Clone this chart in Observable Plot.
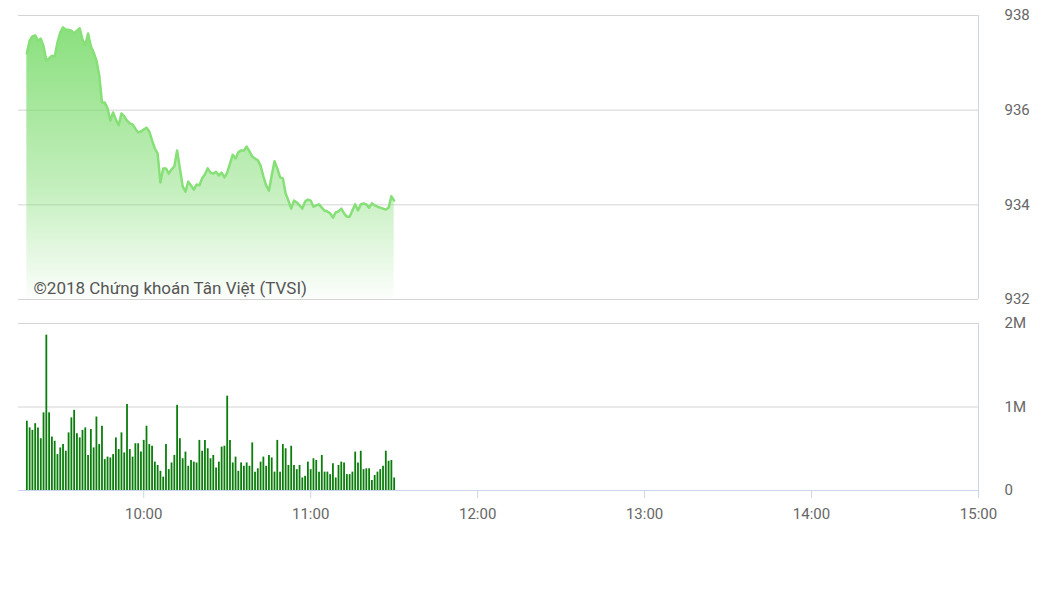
<!DOCTYPE html>
<html><head><meta charset="utf-8">
<script src="https://cdn.jsdelivr.net/npm/d3@7"></script>
<script src="https://cdn.jsdelivr.net/npm/@observablehq/plot@0.6"></script>
<style>
body{margin:0;background:#fff;}
#wrap{position:relative;width:1051px;height:590px;font-family:Roboto,sans-serif;}
#topPanel,#botPanel{position:absolute;left:0;}
#topPanel{top:0}
#botPanel{top:310px}
</style></head><body><div id="wrap"><div id="topPanel"></div><div id="botPanel"></div></div>
<script>
const startTime = "09:18";
const sessionStart = "09:15";
const sessionEnd = "15:00";
const tickLabels = ["10:00","11:00","12:00","13:00","14:00","15:00"];
const priceTicks = [932, 934, 936, 938];
const volumeTicks = [0, 1, 2];
const credit = "©2018 Chứng khoán Tân Việt (TVSI)";

const price = [
937.20,937.47,937.56,937.58,937.47,937.51,937.35,937.05,937.09,937.15,
937.13,937.43,937.64,937.75,937.70,937.70,937.68,937.62,937.68,937.73,
937.49,937.37,937.62,937.35,937.22,937.05,936.75,936.16,936.16,936.04,
935.78,935.95,935.80,935.68,935.93,935.87,935.78,935.72,935.70,935.61,
935.53,935.55,935.59,935.63,935.55,935.36,935.19,935.08,934.47,934.77,
934.77,934.66,934.75,934.81,935.15,934.77,934.39,934.28,934.49,934.41,
934.32,934.43,934.41,934.56,934.64,934.77,934.68,934.66,934.70,934.62,
934.68,934.58,934.68,934.87,935.06,934.98,935.11,935.15,935.15,935.23,
935.13,935.02,934.98,934.94,934.83,934.60,934.41,934.30,934.62,934.92,
934.77,934.58,934.56,934.24,934.09,933.92,934.09,934.05,933.99,933.92,
934.07,934.11,934.09,933.96,933.99,934.01,933.94,933.88,933.86,933.82,
933.73,933.84,933.86,933.92,933.82,933.75,933.75,933.88,934.01,933.88,
934.01,934.03,934.01,933.94,934.03,933.99,933.96,933.94,933.92,933.90,
933.94,934.18,934.09
];

const volume = [
0.83,0.75,0.72,0.80,0.75,0.62,0.93,1.86,0.93,0.64,
0.59,0.43,0.51,0.55,0.47,0.69,0.87,0.96,0.68,0.63,
0.72,0.75,0.42,0.73,0.51,0.88,0.55,0.77,0.37,0.40,
0.39,0.43,0.63,0.49,0.69,0.45,1.03,0.49,0.40,0.56,
0.56,0.46,0.60,0.77,0.55,0.53,0.34,0.30,0.23,0.16,
0.55,0.25,0.33,0.42,1.02,0.62,0.38,0.46,0.29,0.36,
0.34,0.33,0.60,0.47,0.60,0.50,0.38,0.42,0.27,0.34,
0.52,0.53,1.13,0.60,0.33,0.40,0.23,0.33,0.29,0.33,
0.29,0.57,0.22,0.26,0.34,0.40,0.29,0.42,0.39,0.22,
0.60,0.22,0.55,0.50,0.30,0.53,0.30,0.25,0.30,0.15,
0.17,0.34,0.25,0.38,0.36,0.22,0.42,0.22,0.22,0.19,
0.32,0.15,0.30,0.34,0.33,0.19,0.19,0.22,0.46,0.33,
0.47,0.25,0.26,0.26,0.12,0.18,0.22,0.25,0.29,0.47,
0.35,0.36,0.15
];

const parse = s => { const [h, m] = s.split(":").map(Number); return new Date(Date.UTC(2018, 0, 2, h, m)); };
const t0 = parse(startTime);
const rows = price.map((p, i) => ({t: new Date(+t0 + i * 60000), p, v: volume[i]}));
const xDomain = [parse(sessionStart), parse(sessionEnd)];
const xTicks = tickLabels.map(parse);

const gradId = "areaGrad";
function gradientDefs() {
  const ns = "http://www.w3.org/2000/svg";
  const defs = document.createElementNS(ns, "defs");
  const lg = document.createElementNS(ns, "linearGradient");
  lg.setAttribute("id", gradId);
  lg.setAttribute("x1", "0"); lg.setAttribute("y1", "0");
  lg.setAttribute("x2", "0"); lg.setAttribute("y2", "1");
  [[0, 0.9], [0.6, 0.45], [1, 0.02]].forEach(([o, a]) => {
    const s = document.createElementNS(ns, "stop");
    s.setAttribute("offset", o);
    s.setAttribute("stop-color", "#7ddc6f");
    s.setAttribute("stop-opacity", a);
    lg.appendChild(s);
  });
  defs.appendChild(lg);
  return defs;
}

const common = {
  width: 1051, marginLeft: 18, marginRight: 73,
  style: {fontFamily: "Roboto, sans-serif", fontSize: "15px", color: "#666", background: "transparent", overflow: "visible"}
};

const priceChart = Plot.plot({
  ...common,
  height: 310, marginTop: 15, marginBottom: 11,
  x: {type: "utc", domain: xDomain, axis: null},
  y: {domain: [932, 938], label: null},
  marks: [
    gradientDefs,
    Plot.ruleY(priceTicks, {stroke: "#d4d4d4"}),
    Plot.ruleX([xDomain[1]], {stroke: "#ccd6eb"}),
    Plot.areaY(rows, {x: "t", y1: 932, y2: "p", fill: `url(#${gradId})`}),
    Plot.lineY(rows, {x: "t", y: "p", stroke: "#86e077", strokeWidth: 2.5}),
    Plot.axisY(priceTicks, {anchor: "right", tickSize: 0, tickPadding: 26, label: null, fill: "#666", fontSize: 15}),
    Plot.text([credit], {frameAnchor: "bottom-left", dx: 15, dy: -6, textAnchor: "start", lineAnchor: "bottom", fontSize: 17, fill: "#555"})
  ]
});
document.getElementById("topPanel").appendChild(priceChart);

const volumeChart = Plot.plot({
  ...common,
  height: 280, marginTop: 13, marginBottom: 100,
  x: {type: "utc", domain: xDomain, label: null},
  y: {domain: [0, 2], label: null},
  marks: [
    Plot.ruleY([1, 2], {stroke: "#d4d4d4"}),
    Plot.ruleX([xDomain[1]], {stroke: "#ccd6eb"}),
    Plot.ruleX(rows, {x: "t", y1: 0, y2: "v", stroke: "#0b7d0b", strokeWidth: 1.8}),
    Plot.ruleY([0], {stroke: "#ccd6eb"}),
    Plot.axisY(volumeTicks, {anchor: "right", tickSize: 0, tickPadding: 26, label: null, fill: "#666", fontSize: 15, tickFormat: d => d === 0 ? "0" : d + "M"}),
    Plot.axisX(xTicks, {anchor: "bottom", tickSize: 8, tickPadding: 10, label: null, stroke: "#ccd6eb", fill: "#666", fontSize: 15, tickFormat: d3.utcFormat("%H:%M")})
  ]
});
document.getElementById("botPanel").appendChild(volumeChart);
</script></body></html>
